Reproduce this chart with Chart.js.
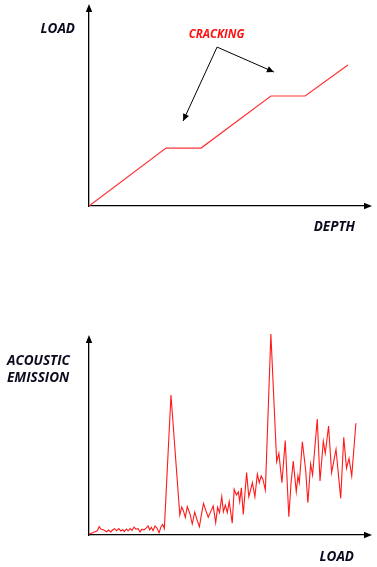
<!DOCTYPE html>
<html><head><meta charset="utf-8">
<script src="https://cdn.jsdelivr.net/npm/chart.js@4/dist/chart.umd.min.js"></script>
<style>
html,body{margin:0;padding:0;background:#fff;}
body{width:377px;height:567px;position:relative;overflow:hidden;}
.box{position:absolute;left:0;width:377px;}
#b1{top:0;height:280px;}
#b2{top:280px;height:287px;}
</style></head><body>
<div class="box" id="b1"><canvas id="c1"></canvas></div>
<div class="box" id="b2"><canvas id="c2"></canvas></div>
<script>
// ---- top chart: load vs depth (schematic units 0-100) ----
const depth = [0, 27.9, 40.6, 65.9, 78.3, 93.8];
const load  = [0, 29.7, 29.7, 56.4, 56.4, 72.3];
const crackLabel = "CRACKING";
const crackLabelPos = [46.2, 86.2];
const crackFrom = [46.4, 81.5];
const crackTo   = [[34.1, 43.6], [67.0, 68.7]];

// ---- bottom chart: acoustic emission vs load ----
const aeLoad = [0.1,2.2,3.0,3.7,4.3,5.2,6.4,7.1,7.9,8.6,9.3,10.0,10.8,11.5,12.2,12.8,13.5,14.2,14.9,15.6,16.3,17.0,17.8,18.5,19.2,19.9,20.7,21.4,22.0,22.6,23.2,23.9,24.6,25.4,26.1,26.7,27.3,
 29.7,32.9,33.6,34.2,34.9,35.6,36.6,37.4,38.3,39.1,40.0,40.8,41.5,42.4,43.2,44.1,45.0,45.9,46.6,47.3,48.1,48.7,49.4,50.1,50.8,51.9,52.6,53.4,54.1,54.6,55.2,55.9,57.1,57.9,58.6,59.2,60.1,61.0,61.7,62.4,63.0,63.9,
 65.9,68.0,68.8,69.9,71.1,72.4,73.2,74.0,75.1,75.7,76.2,77.3,78.5,79.3,80.3,81.0,82.7,83.7,84.9,85.6,86.8,87.9,89.5,91.2,92.3,93.3,94.2,95.2,96.7];
const aeValue = [0.5,1.7,2.2,4.3,3.1,2.7,1.7,2.6,1.6,2.7,3.3,2.2,3.3,2.1,2.7,1.7,3.1,2.2,3.3,2.4,4.1,3.0,3.3,1.6,3.0,2.6,3.6,4.7,2.7,4.0,2.2,4.7,3.6,1.2,4.3,5.5,3.3,
 72.5,10.4,14.4,12.6,9.0,14.7,10.9,5.7,11.8,8.1,4.3,11.2,16.4,12.4,9.2,12.1,15.0,6.4,14.4,11.6,19.8,12.1,15.5,11.6,17.3,6.1,23.7,20.7,22.4,17.3,24.5,10.7,32.3,19.8,23.7,27.1,19.8,31.6,27.1,30.6,28.9,23.3,
 104.1,38.0,42.3,27.1,48.9,9.5,26.8,38.3,22.4,30.6,27.1,48.3,33.7,16.7,36.8,31.1,60.1,28.0,48.7,42.3,56.5,32.3,44.4,19.0,50.6,34.6,39.7,30.6,57.9];

const topTitles = [
  {text:"LOAD",  ref:"left",  dx:-14, vref:"top",    dy:22, align:"right"},
  {text:"DEPTH", ref:"right", dx:-10, vref:"bottom", dy:25, align:"right"}
];
const botTitles = [
  {text:"ACOUSTIC", ref:"left",  dx:-82, vref:"top",    dy:23, align:"left"},
  {text:"EMISSION", ref:"left",  dx:-82, vref:"top",    dy:40, align:"left"},
  {text:"LOAD",     ref:"right", dx:-11, vref:"bottom", dy:26, align:"right"}
];

const FONT = "italic bold 13.5px 'Open Sans', Lato, sans-serif";
const TXT = "#0a0a1e";

function head(ctx, x1, y1, x2, y2, len, half) {
  const a = Math.atan2(y2 - y1, x2 - x1);
  const c = Math.cos(a), s = Math.sin(a);
  ctx.beginPath();
  ctx.moveTo(x2, y2);
  ctx.lineTo(x2 - len*c + half*s, y2 - len*s - half*c);
  ctx.lineTo(x2 - len*c - half*s, y2 - len*s + half*c);
  ctx.closePath();
  ctx.fill();
}

const sketch = {
  id: 'sketch',
  afterDraw(chart, args, opts) {
    const ctx = chart.ctx, ca = chart.chartArea;
    ctx.save();
    ctx.fillStyle = "#000";
    // axis arrowheads
    head(ctx, ca.left, ca.top + 10, ca.left, ca.top - 7, 8, 3.2);
    head(ctx, ca.right - 10, ca.bottom, ca.right + 7, ca.bottom, 8, 3.2);
    // axis titles
    ctx.font = FONT;
    ctx.fillStyle = TXT;
    ctx.textBaseline = "alphabetic";
    (opts.titles || []).forEach(t => {
      ctx.textAlign = t.align;
      ctx.fillText(t.text, ca[t.ref] + t.dx, ca[t.vref] + t.dy);
    });
    // annotation
    if (opts.crack) {
      const xs = chart.scales.x, ys = chart.scales.y;
      const fx = xs.getPixelForValue(crackFrom[0]), fy = ys.getPixelForValue(crackFrom[1]);
      ctx.strokeStyle = "#000";
      ctx.fillStyle = "#000";
      ctx.lineWidth = 1;
      crackTo.forEach(p => {
        const tx = xs.getPixelForValue(p[0]), ty = ys.getPixelForValue(p[1]);
        ctx.beginPath(); ctx.moveTo(fx, fy); ctx.lineTo(tx, ty); ctx.stroke();
        head(ctx, fx, fy, tx, ty, 7, 3.2);
      });
      ctx.font = "italic bold 11.5px 'Open Sans', Lato, sans-serif";
      ctx.fillStyle = "#ff1010";
      ctx.textAlign = "center";
      ctx.fillText(crackLabel, xs.getPixelForValue(crackLabelPos[0]), ys.getPixelForValue(crackLabelPos[1]));
    }
    ctx.restore();
  }
};

function axis(max) {
  return {
    type: 'linear', min: 0, max: max,
    grid: {display: false, drawTicks: false},
    ticks: {display: false},
    border: {display: true, color: '#000', width: 1.3}
  };
}

new Chart(document.getElementById('c1'), {
  type: 'line',
  data: {datasets: [{
    data: depth.map((d, i) => ({x: d, y: load[i]})),
    borderColor: '#ff3333', borderWidth: 1.2, pointRadius: 0, tension: 0, fill: false
  }]},
  options: {
    responsive: true, maintainAspectRatio: false, animation: false,
    layout: {padding: {left: 89, right: 12, top: 11, bottom: 74}},
    scales: {x: axis(100), y: axis(100)},
    plugins: {legend: {display: false}, tooltip: {enabled: false},
      sketch: {titles: topTitles, crack: true}}
  },
  plugins: [sketch]
});

new Chart(document.getElementById('c2'), {
  type: 'line',
  data: {datasets: [{
    data: aeLoad.map((d, i) => ({x: d, y: aeValue[i]})),
    borderColor: '#ff1a1a', borderWidth: 1.1, pointRadius: 0, tension: 0, fill: false, clip: false
  }]},
  options: {
    responsive: true, maintainAspectRatio: false, animation: false,
    layout: {padding: {left: 89, right: 12, top: 62, bottom: 32}},
    scales: {x: axis(100), y: axis(100)},
    plugins: {legend: {display: false}, tooltip: {enabled: false},
      sketch: {titles: botTitles, crack: false}}
  },
  plugins: [sketch]
});
</script>
</body></html>
